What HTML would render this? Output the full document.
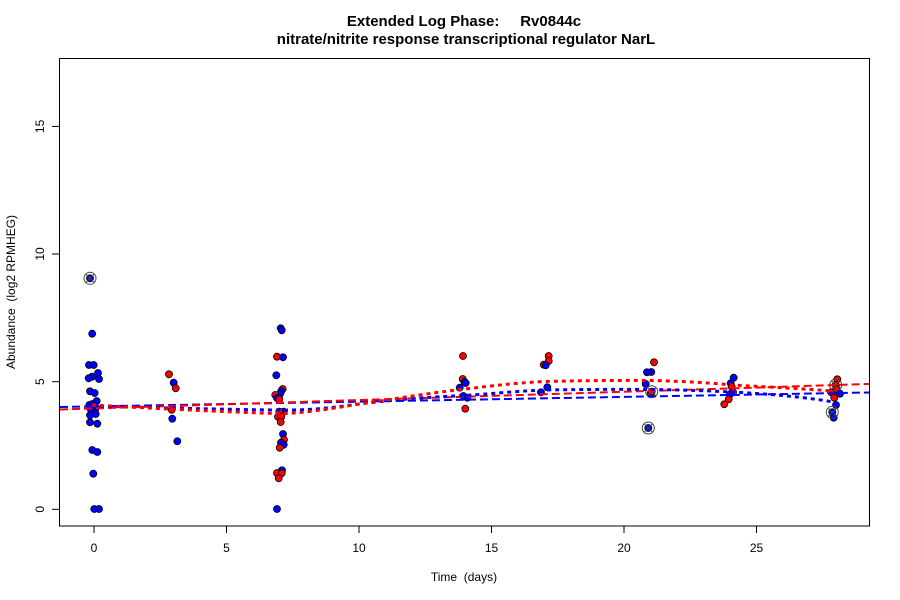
<!DOCTYPE html>
<html>
<head>
<meta charset="utf-8">
<style>
html,body{margin:0;padding:0;background:#fff;}
svg{display:block;}
text{font-family:"Liberation Sans",Arial,sans-serif;fill:#000;}
</style>
</head>
<body>
<svg width="900" height="600" viewBox="0 0 900 600" xmlns="http://www.w3.org/2000/svg">
<rect width="900" height="600" fill="#fff"/>
<!-- Title -->
<text x="464" y="26" font-size="15" font-weight="bold" text-anchor="middle" xml:space="preserve">Extended Log Phase:     Rv0844c</text>
<text x="466" y="44" font-size="15" font-weight="bold" text-anchor="middle">nitrate/nitrite response transcriptional regulator NarL</text>

<!-- Plot box -->
<rect x="59.5" y="58.5" width="810" height="467.5" fill="none" stroke="#000" stroke-width="1"/>

<!-- X axis ticks -->
<g stroke="#000" stroke-width="1">
<line x1="94" y1="526" x2="94" y2="533"/>
<line x1="226.5" y1="526" x2="226.5" y2="533"/>
<line x1="359" y1="526" x2="359" y2="533"/>
<line x1="491.5" y1="526" x2="491.5" y2="533"/>
<line x1="624" y1="526" x2="624" y2="533"/>
<line x1="756.5" y1="526" x2="756.5" y2="533"/>
</g>
<g font-size="12" text-anchor="middle">
<text x="94" y="552">0</text>
<text x="226.5" y="552">5</text>
<text x="359" y="552">10</text>
<text x="491.5" y="552">15</text>
<text x="624" y="552">20</text>
<text x="756.5" y="552">25</text>
</g>
<text x="464" y="581" font-size="12" text-anchor="middle" xml:space="preserve">Time  (days)</text>

<!-- Y axis ticks -->
<g stroke="#000" stroke-width="1">
<line x1="52" y1="509.3" x2="59" y2="509.3"/>
<line x1="52" y1="381.7" x2="59" y2="381.7"/>
<line x1="52" y1="254" x2="59" y2="254"/>
<line x1="52" y1="126.4" x2="59" y2="126.4"/>
</g>
<g font-size="12" text-anchor="middle">
<text transform="translate(44,509.3) rotate(-90)">0</text>
<text transform="translate(44,381.7) rotate(-90)">5</text>
<text transform="translate(44,254) rotate(-90)">10</text>
<text transform="translate(44,126.4) rotate(-90)">15</text>
</g>
<text transform="translate(15,292) rotate(-90)" font-size="12" text-anchor="middle" xml:space="preserve">Abundance  (log2 RPMHEG)</text>

<!-- Points -->
<g stroke="#000" stroke-width="0.8">
<!-- day 0 -->
<g fill="#0000ff">
<circle cx="90" cy="278.3" r="3.5"/>
<circle cx="92.2" cy="333.7" r="3.5"/>
<circle cx="89" cy="365" r="3.5"/>
<circle cx="93.7" cy="365" r="3.5"/>
<circle cx="98" cy="373" r="3.5"/>
<circle cx="92" cy="376.7" r="3.5"/>
<circle cx="88.7" cy="378.3" r="3.5"/>
<circle cx="99" cy="379" r="3.5"/>
<circle cx="90" cy="391.3" r="3.5"/>
<circle cx="94.7" cy="393" r="3.5"/>
<circle cx="96.7" cy="401" r="3.5"/>
<circle cx="89.3" cy="405" r="3.5"/>
<circle cx="92.3" cy="404" r="3.5"/>
<circle cx="95" cy="406" r="3.5"/>
<circle cx="95.3" cy="409.3" r="3.5"/>
<circle cx="90.7" cy="409.3" r="3.5"/>
<circle cx="95.7" cy="414" r="3.5"/>
<circle cx="90" cy="415.3" r="3.5"/>
<circle cx="90" cy="422.3" r="3.5"/>
<circle cx="97.3" cy="423.7" r="3.5"/>
<circle cx="92.3" cy="450" r="3.5"/>
<circle cx="97.3" cy="452" r="3.5"/>
<circle cx="93.3" cy="473.7" r="3.5"/>
<circle cx="94.3" cy="509" r="3.5"/>
<circle cx="99" cy="509" r="3.5"/>
</g>
<!-- day 3 -->
<circle cx="169" cy="374.3" r="3.5" fill="#ff0000"/>
<circle cx="173.7" cy="382.7" r="3.5" fill="#0000ff"/>
<circle cx="175.7" cy="388.3" r="3.5" fill="#ff0000"/>
<circle cx="171.7" cy="409.7" r="3.5" fill="#ff0000"/>
<circle cx="172.3" cy="418.7" r="3.5" fill="#0000ff"/>
<circle cx="177.3" cy="441.3" r="3.5" fill="#0000ff"/>
<!-- day 7 -->
<circle cx="280.7" cy="328.3" r="3.5" fill="#0000ff"/>
<circle cx="281.7" cy="330.3" r="3.5" fill="#0000ff"/>
<circle cx="277" cy="356.7" r="3.5" fill="#ff0000"/>
<circle cx="283" cy="357.3" r="3.5" fill="#0000ff"/>
<circle cx="276.3" cy="375.3" r="3.5" fill="#0000ff"/>
<circle cx="282.7" cy="389" r="3.5" fill="#ff0000"/>
<circle cx="281.3" cy="391" r="3.5" fill="#0000ff"/>
<circle cx="280" cy="394" r="3.5" fill="#0000ff"/>
<circle cx="275.3" cy="395" r="3.5" fill="#ff0000"/>
<circle cx="277" cy="398" r="3.5" fill="#0000ff"/>
<circle cx="279.3" cy="399.3" r="3.5" fill="#ff0000"/>
<circle cx="283.7" cy="411.7" r="3.5" fill="#0000ff"/>
<circle cx="279.3" cy="411.7" r="3.5" fill="#ff0000"/>
<circle cx="278" cy="416.7" r="3.5" fill="#ff0000"/>
<circle cx="281.3" cy="416.7" r="3.5" fill="#ff0000"/>
<circle cx="280.7" cy="422" r="3.5" fill="#ff0000"/>
<circle cx="283" cy="434" r="3.5" fill="#0000ff"/>
<circle cx="284" cy="439.7" r="3.5" fill="#ff0000"/>
<circle cx="281" cy="442.7" r="3.5" fill="#0000ff"/>
<circle cx="283.7" cy="444.7" r="3.5" fill="#0000ff"/>
<circle cx="279.7" cy="447.7" r="3.5" fill="#ff0000"/>
<circle cx="282" cy="470.3" r="3.5" fill="#0000ff"/>
<circle cx="277" cy="473" r="3.5" fill="#ff0000"/>
<circle cx="281.7" cy="473.3" r="3.5" fill="#ff0000"/>
<circle cx="278.7" cy="478.3" r="3.5" fill="#ff0000"/>
<circle cx="277" cy="509" r="3.5" fill="#0000ff"/>
<!-- day 14 -->
<circle cx="463" cy="356" r="3.5" fill="#ff0000"/>
<circle cx="462.7" cy="379" r="3.5" fill="#ff0000"/>
<circle cx="464.3" cy="381.7" r="3.5" fill="#0000ff"/>
<circle cx="465.7" cy="383" r="3.5" fill="#0000ff"/>
<circle cx="459.7" cy="387.7" r="3.5" fill="#0000ff"/>
<circle cx="463.3" cy="396" r="3.5" fill="#0000ff"/>
<circle cx="467.3" cy="397.7" r="3.5" fill="#0000ff"/>
<circle cx="465.3" cy="408.7" r="3.5" fill="#ff0000"/>
<!-- day 17 -->
<circle cx="548.7" cy="356" r="3.5" fill="#ff0000"/>
<circle cx="548.7" cy="361" r="3.5" fill="#ff0000"/>
<circle cx="543.7" cy="364.7" r="3.5" fill="#ff0000"/>
<circle cx="545.7" cy="365.3" r="3.5" fill="#0000ff"/>
<circle cx="547.3" cy="387.3" r="3.5" fill="#0000ff"/>
<circle cx="541" cy="392.3" r="3.5" fill="#0000ff"/>
<!-- day 21 -->
<circle cx="654" cy="362.3" r="3.5" fill="#ff0000"/>
<circle cx="651.3" cy="372" r="3.5" fill="#0000ff"/>
<circle cx="647" cy="372.3" r="3.5" fill="#0000ff"/>
<circle cx="645.7" cy="384" r="3.5" fill="#0000ff"/>
<circle cx="650.7" cy="393.3" r="3.5" fill="#ff0000"/>
<circle cx="651.7" cy="391.7" r="3.5" fill="#ff0000"/>
<circle cx="648.3" cy="428" r="3.5" fill="#0000ff"/>
<!-- day 24 -->
<circle cx="733.7" cy="377.7" r="3.5" fill="#0000ff"/>
<circle cx="730.7" cy="383.3" r="3.5" fill="#0000ff"/>
<circle cx="731.7" cy="386.7" r="3.5" fill="#ff0000"/>
<circle cx="733" cy="392.3" r="3.5" fill="#ff0000"/>
<circle cx="730" cy="394.3" r="3.5" fill="#0000ff"/>
<circle cx="728.7" cy="399.3" r="3.5" fill="#ff0000"/>
<circle cx="724.3" cy="404.3" r="3.5" fill="#ff0000"/>
<!-- day 28 -->
<circle cx="837.3" cy="379.3" r="3.5" fill="#ff0000"/>
<circle cx="835.7" cy="385" r="3.5" fill="#ff0000"/>
<circle cx="836.7" cy="389.3" r="3.5" fill="#ff0000"/>
<circle cx="831" cy="392.3" r="3.5" fill="#ff0000"/>
<circle cx="840" cy="393.7" r="3.5" fill="#0000ff"/>
<circle cx="834.3" cy="397.7" r="3.5" fill="#ff0000"/>
<circle cx="836" cy="405" r="3.5" fill="#0000ff"/>
<circle cx="832.3" cy="412.3" r="3.5" fill="#0000ff"/>
<circle cx="833.7" cy="417.7" r="3.5" fill="#0000ff"/>
</g>

<!-- Outlier markers (circle with X) -->
<g fill="none" stroke="#444" stroke-width="1">
<g transform="translate(90,278.3)"><circle r="6"/><line x1="-4.3" y1="-4.3" x2="4.3" y2="4.3"/><line x1="-4.3" y1="4.3" x2="4.3" y2="-4.3"/></g>
<g transform="translate(648.3,428)"><circle r="6"/><line x1="-4.3" y1="-4.3" x2="4.3" y2="4.3"/><line x1="-4.3" y1="4.3" x2="4.3" y2="-4.3"/></g>
<g transform="translate(651.7,391.7)"><circle r="6"/><line x1="-4.3" y1="-4.3" x2="4.3" y2="4.3"/><line x1="-4.3" y1="4.3" x2="4.3" y2="-4.3"/></g>
<g transform="translate(835.7,385)"><circle r="6"/><line x1="-4.3" y1="-4.3" x2="4.3" y2="4.3"/><line x1="-4.3" y1="4.3" x2="4.3" y2="-4.3"/></g>
<g transform="translate(832.3,412.3)"><circle r="6"/><line x1="-4.3" y1="-4.3" x2="4.3" y2="4.3"/><line x1="-4.3" y1="4.3" x2="4.3" y2="-4.3"/></g>
</g>

<!-- Fit lines -->
<g fill="none">
<!-- linear fits (dashed) -->
<line x1="60" y1="407" x2="869" y2="392.5" stroke="#0000ff" stroke-width="2" stroke-dasharray="8 4"/>
<line x1="60" y1="409.5" x2="869" y2="384" stroke="#ff0000" stroke-width="2" stroke-dasharray="8 4"/>
<!-- smooth fits (dotted) -->
<path d="M92,406 C130,407 200,409 276,410 C310,410.5 330,408 359,404 C400,399 430,397 465,395.5 C500,393 520,391 545,390 C590,389.3 620,389.3 652,389.5 C690,390 712,391 732,392 C770,394 805,397 833,402" stroke="#0000ff" stroke-width="3" stroke-dasharray="4 4"/>
<path d="M92,405 C130,407 200,411 276,413.5 C300,414 330,409 359,404 C400,398 430,393 465,389 C495,385.5 515,383 545,381.5 C590,380.5 620,380.3 651,380.5 C690,381.5 712,383 732,385 C770,387 805,389 833,391" stroke="#ff0000" stroke-width="3" stroke-dasharray="4 4"/>
</g>
</svg>
</body>
</html>
